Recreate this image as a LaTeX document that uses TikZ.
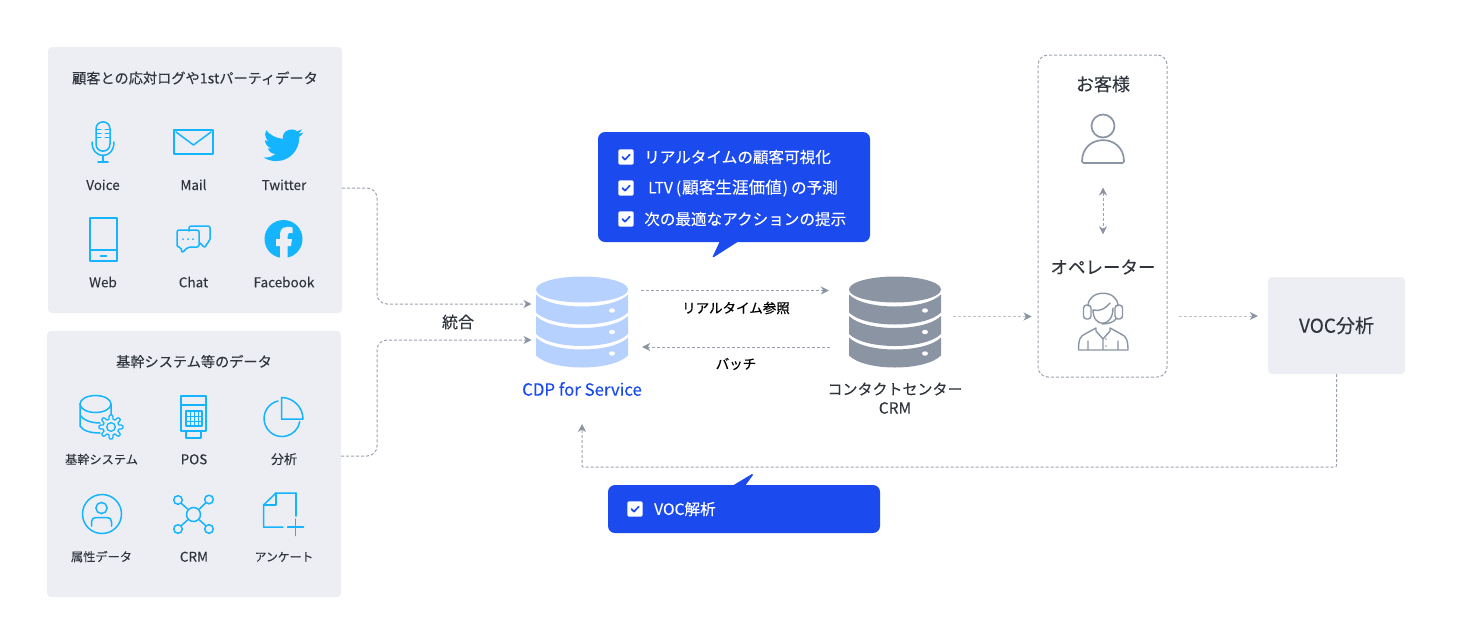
\documentclass[tikz,border=0pt]{standalone}
\usepackage{fontspec}
\setmainfont{Noto Sans CJK JP}[FakeBold=0.15]
\newfontfamily\strongfont{Noto Sans CJK JP}[FakeBold=0.45]
\usetikzlibrary{arrows.meta}
\definecolor{panelc}{HTML}{EDEEF3}
\definecolor{iconc}{HTML}{14B4FF}
\definecolor{bluec}{HTML}{1B4AEE}
\definecolor{textc}{HTML}{30353D}
\definecolor{linkc}{HTML}{9AA2AF}
\definecolor{greyc}{HTML}{8A94A3}
\definecolor{cdpc}{HTML}{B7D1FF}
\tikzset{
  x=1pt,y=-1pt,
  panel/.style={fill=panelc,rounded corners=4pt,inner sep=0pt},
  icon/.style={draw=iconc,line width=1.5pt,line join=round,line cap=round},
  person/.style={draw=greyc,line width=1.7pt,line join=round,line cap=round},
  link/.style={draw=linkc,line width=1pt,dash pattern=on 3pt off 2pt,rounded corners=10pt,
    -{Stealth[length=8pt,width=8pt,inset=2.5pt,color=greyc]}},
  softlink/.style={link,draw=linkc!65},
  lbl/.style={text=textc,anchor=base,font=\fontsize{13.5}{15}\selectfont,inner sep=0pt},
  kanalbl/.style={lbl,font=\fontsize{12.2}{15}\selectfont},
  ttl/.style={text=textc,font=\fontsize{14.2}{16}\selectfont,inner sep=0pt},
  chktext/.style={text=white,anchor=west,font=\fontsize{15.6}{18}\selectfont,inner sep=0pt},
  callout/.style={fill=bluec,rounded corners=7pt},
  chkbox/.pic={
    \fill[white,rounded corners=1.5pt] (-7.7,-7.7) rectangle (7.7,7.7);
    \draw[bluec,line width=1.7pt,line cap=round,line join=round] (-3.6,0) -- (-1,2.6) -- (3.8,-2.4);
  },
}
% Three-disc database symbol: centre x, top of the stack, fill colour
\newcommand{\dbstack}[3]{%
  \fill[#3] (#1,#2+13) circle[x radius=46,y radius=13];
  \foreach \d in {0,21.5,43}{
    \fill[#3] (#1-46,#2+18+\d)
      .. controls (#1-30,#2+34+\d) and (#1+30,#2+34+\d) .. (#1+46,#2+18+\d)
      -- (#1+46,#2+36+\d)
      .. controls (#1+30,#2+52+\d) and (#1-30,#2+52+\d) .. (#1-46,#2+36+\d) -- cycle;
    \fill[white] (#1+30,#2+34+\d) circle[x radius=3,y radius=2.2];
  }%
}
\begin{document}
\begin{tikzpicture}
\useasboundingbox (0,0) rectangle (1472,643);

% source panels
\node[panel,minimum width=294pt,minimum height=266pt] (src1) at (195,180) {};
\node[panel,minimum width=294pt,minimum height=266pt] (src2) at (194,464) {};
\node[ttl] (t1) at (195,78) {顧客との応対ログや1stパーティデータ};
\node[ttl] (t2) at (194,361.5) {基幹システム等のデータ};

% first panel labels
\node[lbl] (l11) at (103,190) {Voice};
\node[lbl] (l12) at (193.5,190) {Mail};
\node[lbl] (l13) at (284,190) {Twitter};
\node[lbl] (l14) at (103,287.3) {Web};
\node[lbl] (l15) at (193.5,287.3) {Chat};
\node[lbl] (l16) at (284,287.3) {Facebook};

% second panel labels
\node[kanalbl] (l21) at (101.5,464) {基幹システム};
\node[lbl] (l22) at (194,464.3) {POS};
\node[kanalbl,font=\fontsize{13}{15}\selectfont] (l23) at (284,464) {分析};
\node[kanalbl] (l24) at (101.5,561.3) {属性データ};
\node[lbl] (l25) at (194,561.7) {CRM};
\node[kanalbl,font=\fontsize{11.8}{15}\selectfont] (l26) at (284,561.3) {アンケート};

% microphone
\draw[icon] (96,129) .. controls (96,119.5) and (110,119.5) .. (110,129) -- (110,144)
  .. controls (110,153.5) and (96,153.5) .. (96,144) -- cycle;
\draw[icon,line width=1pt] (97,129) -- (101,129) (105,129) -- (109,129)
  (97,133) -- (101,133) (105,133) -- (109,133) (97,137) -- (101,137) (105,137) -- (109,137);
\draw[icon] (92,142) .. controls (92,160) and (114,160) .. (114,142);
\draw[icon] (103,155) -- (103,162) (98,162) -- (108,162);

% envelope
\draw[icon] (174,130) rectangle (213,154);
\draw[icon] (176,132) -- (193.5,145) -- (211,132);

% twitter bird
\begin{scope}[shift={(263.5,125)},x=1.66pt,y=-1.66pt]
\fill[iconc] (23.95,4.57) -- (21.13,5.35) -- (23.29,2.62) -- (20.16,3.8)
  .. controls (17.8,1.2) and (10.6,3.3) .. (11.78,8.29)
  .. controls (7.69,8.1) and (4.07,6.13) .. (1.64,3.16)
  .. controls (1.2,3.9) and (0.97,4.75) .. (0.97,5.64)
  .. controls (0.97,7.35) and (1.84,8.85) .. (3.16,9.73)
  .. controls (2.35,9.7) and (1.6,9.5) .. (0.93,9.12)
  .. controls (0.93,11.55) and (2.6,13.55) .. (4.88,14)
  .. controls (4.15,14.2) and (3.4,14.2) .. (2.67,14.09)
  .. controls (3.3,16.05) and (5.1,17.45) .. (7.27,17.5)
  .. controls (5.6,18.8) and (3.5,19.61) .. (1.17,19.61)
  .. controls (0.78,19.61) and (0.39,19.59) .. (0,19.54)
  .. controls (2.2,20.95) and (4.8,21.75) .. (7.56,21.75)
  .. controls (16.6,21.75) and (21.55,14.25) .. (21.55,7.76)
  .. controls (21.55,7.55) and (21.55,7.34) .. (21.54,7.13)
  .. controls (22.5,6.43) and (23.35,5.55) .. (24,4.59) -- cycle;
\end{scope}

% tablet
\draw[icon] (90,218) rectangle (117,261);
\draw[icon] (90,250) -- (117,250) (100.5,256) -- (106.5,256);

% chat bubbles
\draw[icon,rounded corners=2pt] (189,231) -- (189,226) -- (210,226) -- (210,241) -- (207,243) -- (205,248) -- (200,243);
\draw[icon,rounded corners=2pt] (177,230) -- (199,230) -- (199,247) -- (188,247) -- (182,253) -- (181,247) -- (177,247) -- cycle;
\fill[iconc] (183,239) circle[radius=1] (188,239) circle[radius=1] (193,239) circle[radius=1];

% facebook mark
\fill[iconc] (283.5,239) circle[radius=19];
\fill[panelc] (280,258) -- (280,246) -- (276,246) -- (276,239) -- (280,239) -- (280,234)
  .. controls (280,228) and (285,225.5) .. (292.5,227.5)
  -- (292.5,233) .. controls (288.5,232.5) and (287.5,233.5) .. (287.5,236)
  -- (287.5,239) -- (292,239) -- (291,246) -- (287.5,246) -- (287.5,258) -- cycle;

% database with gear
\draw[icon] (95.5,404) circle[x radius=15.5,y radius=8.5];
\draw[icon] (80,404) -- (80,426) (111,404) -- (111,415)
  (80,415) .. controls (83,420) and (91,423) .. (100,423)
  (80,426) .. controls (83,431) and (91,433) .. (100,433);
\draw[icon,fill=panelc,line width=1.3pt] plot[domain=0:355,samples=72,variable=\t]
  ({111+(10+2*max(min(2.2*cos(8*\t),1),-1))*cos(\t)},{427+(10+2*max(min(2.2*cos(8*\t),1),-1))*sin(\t)}) -- cycle;
\draw[icon,line width=1.3pt] (111,427) circle[radius=4.3];

% card terminal
\draw[icon] (181,396) rectangle (206,431);
\draw[icon] (181,405) -- (206,405);
\draw[icon] (186,411) rectangle (202,426);
\draw[icon,line width=1pt] (186,416) -- (202,416) (186,421) -- (202,421)
  (190,411) -- (190,426) (194,411) -- (194,426) (198,411) -- (198,426);
\draw[icon] (186,431) -- (186,438) -- (201,438) -- (201,431);

% pie chart
\draw[icon] (278,401) arc (-103:-350:18);
\draw[icon] (281.5,397.5) .. controls (293,397.5) and (303,407) .. (303,419) -- (281.5,419) -- cycle;

% person in a circle
\draw[icon] (102,514) circle[radius=19.5];
\draw[icon] (101.5,508) circle[radius=5.6];
\draw[icon] (91.5,526) -- (91.5,522) .. controls (91.5,519) and (93,517.5) .. (96,517.5)
  -- (107,517.5) .. controls (110,517.5) and (111.5,519) .. (111.5,522) -- (111.5,526);

% network
\draw[icon] (193.5,514.5) circle[radius=7];
\draw[icon] (178,500) circle[radius=4.3] (209,499.5) circle[radius=4.3]
  (178,529) circle[radius=4.3] (209,529) circle[radius=4.3];
\draw[icon] (181.5,503.5) -- (187.5,509) (205.5,503) -- (199.5,509)
  (181.5,525.5) -- (187.5,520) (205.5,525.5) -- (199.5,520);

% document with plus
\draw[icon] (296,493) -- (276,493) -- (263.5,505) -- (263.5,527) -- (283,527);
\draw[icon] (296,493) -- (296,516);
\draw[icon] (276,493) -- (276,505) -- (263.5,505);
\draw[icon] (287.5,527) -- (303.5,527) (295.5,519) -- (295.5,535.5);

% database symbols
\node[minimum width=92pt,minimum height=92pt,inner sep=0pt] (cdp) at (582,322.5) {};
\node[minimum width=92pt,minimum height=92pt,inner sep=0pt] (crmdb) at (895,322.5) {};
\dbstack{582}{276.5}{cdpc}
\dbstack{895}{276.5}{greyc}
\node[inner sep=0pt,text=bluec,font=\fontsize{16.8}{19}\selectfont] (cdpl) at (582,389) {CDP for Service};
\node[inner sep=0pt,text=textc,font=\fontsize{15}{18}\selectfont] (crml1) at (895,389) {コンタクトセンター};
\node[inner sep=0pt,text=textc,font=\fontsize{15.5}{18}\selectfont] (crml2) at (895,408) {CRM};

% upper callout
\fill[bluec] (720,241) -- (712.5,257) -- (714,257) -- (739,241) -- cycle;
\node[callout,minimum width=272pt,minimum height=110pt,inner sep=0pt] (call1) at (734,187) {};
\pic at (626,157) {chkbox};
\pic at (626,188) {chkbox};
\pic at (626,219) {chkbox};
\node[chktext] (c1) at (644,157) {リアルタイムの顧客可視化};
\node[chktext] (c2) at (648,188) {LTV\kern3pt(\kern1pt{\fontsize{16.6}{18}\selectfont 顧客生涯価値}\kern1pt)\kern3ptの予測};
\node[chktext] (c3) at (644,219) {次の最適なアクションの提示};

% lower callout
\fill[bluec] (732,486) -- (752,474) -- (753,475) -- (745,486) -- cycle;
\node[callout,minimum width=272pt,minimum height=48pt,inner sep=0pt] (call2) at (744,509) {};
\pic at (635,509) {chkbox};
\node[chktext] (c4) at (654,509) {VOC解析};

% people box
\node[draw=linkc,line width=1pt,dash pattern=on 3pt off 2pt,rounded corners=10pt,
  minimum width=129pt,minimum height=322pt,inner sep=0pt] (people) at (1102.5,216) {};
\node[text=textc,font=\fontsize{18}{20}\selectfont,inner sep=0pt] (cust) at (1103,84) {お客様};
\node[text=textc,font=\fontsize{17.5}{20}\selectfont,inner sep=0pt] (oper) at (1103,267) {オペレーター};

% customer figure
\draw[person] (1103,126) circle[radius=11.5];
\draw[person,rounded corners=1.5pt] (1082,163) .. controls (1082,133) and (1124,133) .. (1124,163) -- cycle;

% operator figure
\draw[person,line width=1.4pt] (1088,306) .. controls (1088,289) and (1118,289) .. (1118,306);
\draw[person,line width=1.4pt,rounded corners=3pt] (1083.5,305) rectangle (1091,319);
\draw[person,line width=1.4pt,rounded corners=3pt] (1115,305) rectangle (1122.5,319);
\draw[person,line width=1.4pt] (1093,310) .. controls (1100,312) and (1106,308) .. (1110,303);
\draw[person,line width=1.4pt] (1093,310) .. controls (1093,328) and (1113,328) .. (1113,308);
\draw[person,line width=1.4pt] (1116,319) .. controls (1114,322) and (1108,324) .. (1102,324);
\draw[person,line width=1.4pt] (1078.5,350) -- (1128,350)
  (1078.5,350) .. controls (1078.5,340) and (1080,336) .. (1085,334) -- (1096,328) -- (1096,331) -- (1103,339) -- (1110,331) -- (1110,328)
  -- (1121,334) .. controls (1126,336) and (1128,340) .. (1128,350)
  (1088,341) -- (1088,350) (1118,341) -- (1118,350) (1103,339) -- (1103,350);
\fill[greyc] (1106,339) circle[radius=.9] (1106,346) circle[radius=.9];

% VOC analysis box
\node[panel,minimum width=137pt,minimum height=97pt,text=textc,font=\fontsize{19}{21}\selectfont] (voc) at (1336.5,325.5) {VOC分析};

% connector end points
\coordinate (in1) at (531.5,304);
\coordinate (in2) at (531.5,340);
\coordinate (backin) at (582,424);

% connectors
\draw[link] ([yshift=-8pt]src1.east) -- (377,188) -- (377,304) -- (in1);
\draw[link] ([yshift=8pt]src2.east) -- (377,456) -- (377,340) -- (in2);
\draw[link,rounded corners=0pt] ([xshift=13pt,yshift=32pt]cdp.east) -- ([xshift=-20pt,yshift=32pt]crmdb.west);
\draw[link,rounded corners=0pt] ([xshift=-19pt,yshift=-24.5pt]crmdb.west) -- ([xshift=14pt,yshift=-24.5pt]cdp.east);
\draw[softlink,rounded corners=0pt] ([xshift=12pt,yshift=6pt]crmdb.east) -- ([yshift=-100.5pt,xshift=-6pt]people.west);
\draw[softlink,rounded corners=0pt] ([xshift=11pt,yshift=-100pt]people.east) -- ([xshift=-10pt,yshift=9.5pt]voc.west);
\draw[link,rounded corners=1pt] (voc.south) -- (1336.5,467) -- (582,467) -- (backin);
\draw[link,{Stealth[length=8pt,width=8pt,inset=2.5pt,color=greyc]}-{Stealth[length=8pt,width=8pt,inset=2.5pt,color=greyc]},rounded corners=0pt]
  ([yshift=-95pt]cust.south) -- ([yshift=25pt]oper.north);

% connector labels
\node[inner sep=0pt,text=black,font=\strongfont\fontsize{13.5}{16}\selectfont] (lrt) at (736,308) {リアルタイム参照};
\node[inner sep=0pt,text=black,font=\strongfont\fontsize{13.5}{16}\selectfont] (lbt) at (736,364) {バッチ};
\node[inner sep=0pt,text=textc,font=\fontsize{16}{18}\selectfont] (lint) at (458,322) {統合};
\end{tikzpicture}
\end{document}
